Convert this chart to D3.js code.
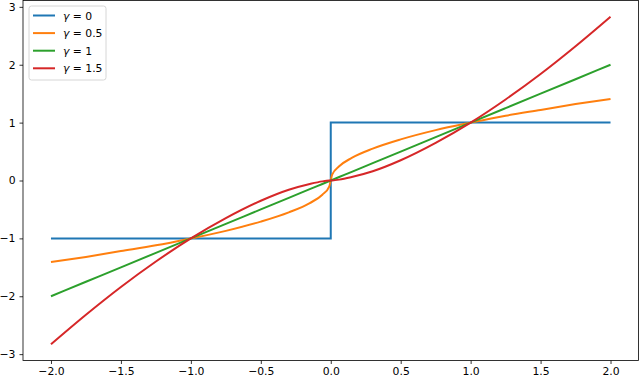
<!DOCTYPE html>
<html>
<head>
<meta charset="utf-8">
<script src="https://cdn.jsdelivr.net/npm/d3@7"></script>
<style>
  body { margin: 0; background: #fff; }
  svg { display: block; font-family: "DejaVu Sans", sans-serif; }
</style>
</head>
<body>
<svg id="chart" width="640" height="379"></svg>
<script>
// values
const labels = ["0", "0.5", "1", "1.5"];
const colors = ["#1f77b4", "#ff7f0e", "#2ca02c", "#d62728"];

// step curve (gamma = 0)
const stepX = [-2, 0, 0, 2];
const stepY = [-1, -1, 1, 1];

// shared x grid for the smooth curves
const gridX = [-2, -1.75, -1.5, -1.25, -1, -0.75, -0.5, -0.3, -0.15, -0.06, -0.01, 0,
  0.01, 0.06, 0.15, 0.3, 0.5, 0.75, 1, 1.25, 1.5, 1.75, 2];
const halfY = [-1.41, -1.32, -1.22, -1.12, -1, -0.87, -0.71, -0.55, -0.39, -0.245, -0.1, 0,
  0.1, 0.245, 0.39, 0.55, 0.71, 0.87, 1, 1.12, 1.22, 1.32, 1.41];
const oneY = [-2, -1.75, -1.5, -1.25, -1, -0.75, -0.5, -0.3, -0.15, -0.06, -0.01, 0,
  0.01, 0.06, 0.15, 0.3, 0.5, 0.75, 1, 1.25, 1.5, 1.75, 2];
const oneHalfY = [-2.83, -2.32, -1.84, -1.4, -1, -0.65, -0.35, -0.16, -0.06, -0.015, -0.001, 0,
  0.001, 0.015, 0.06, 0.16, 0.35, 0.65, 1, 1.4, 1.84, 2.32, 2.83];

const xTicks = [-2, -1.5, -1, -0.5, 0, 0.5, 1, 1.5, 2];
const yTicks = [-3, -2, -1, 0, 1, 2, 3];

const plotLeft = 23, plotRight = 638.5, plotTop = 0.5, plotBottom = 360.5;
const fontSize = "10.8px";

const svg = d3.select("#chart");

const x = d3.scaleLinear().domain([-2.2, 2.2]).range([plotLeft, plotRight]);
const y = d3.scaleLinear().domain([-3.11, 3.11]).range([plotBottom, plotTop]);

// axes
const xAxis = svg.append("g")
  .attr("transform", `translate(0,${plotBottom})`)
  .call(d3.axisBottom(x).tickValues(xTicks).tickSize(3.5).tickPadding(3.5)
    .tickFormat(d => d3.format(".1f")(d).replace("-", "\u2212")));
const yAxis = svg.append("g")
  .attr("transform", `translate(${plotLeft},0)`)
  .call(d3.axisLeft(y).tickValues(yTicks).tickSize(3.5).tickPadding(4)
    .tickFormat(d => String(d).replace("-", "\u2212")));

[xAxis, yAxis].forEach(g => {
  g.select(".domain").remove();
  g.selectAll(".tick line").attr("stroke", "#000").attr("stroke-width", 0.8);
  g.selectAll(".tick text").attr("fill", "#000").style("font-size", fontSize)
    .style("font-family", "'DejaVu Sans', sans-serif");
});

// series
const series = [
  stepX.map((d, i) => [d, stepY[i]]),
  gridX.map((d, i) => [d, halfY[i]]),
  gridX.map((d, i) => [d, oneY[i]]),
  gridX.map((d, i) => [d, oneHalfY[i]])
];

series.forEach((pts, i) => {
  const line = d3.line()
    .x(d => x(d[0]))
    .y(d => y(d[1]))
    .curve(i === 0 ? d3.curveLinear : d3.curveMonotoneX);
  svg.append("path")
    .datum(pts)
    .attr("fill", "none")
    .attr("stroke", colors[i])
    .attr("stroke-width", 2)
    .attr("d", line);
});

// frame
svg.append("rect")
  .attr("x", plotLeft).attr("y", plotTop)
  .attr("width", plotRight - plotLeft).attr("height", plotBottom - plotTop)
  .attr("fill", "none").attr("stroke", "#000").attr("stroke-width", 0.8);

// legend
const legend = svg.append("g").attr("transform", "translate(29,6)");
legend.append("rect")
  .attr("width", 77).attr("height", 74).attr("rx", 2.5)
  .attr("fill", "#fff").attr("fill-opacity", 0.8)
  .attr("stroke", "#ccc").attr("stroke-width", 0.8);

labels.forEach((lab, i) => {
  const row = legend.append("g").attr("transform", `translate(0,${9.5 + i * 17.6})`);
  row.append("line")
    .attr("x1", 4).attr("x2", 26)
    .attr("stroke", colors[i]).attr("stroke-width", 2);
  const t = row.append("text")
    .attr("x", 34).attr("y", 4)
    .style("font-size", fontSize)
    .attr("fill", "#000");
  t.append("tspan").style("font-style", "italic").text("\u03b3");
  t.append("tspan").text(" = " + lab);
});
</script>
</body>
</html>
